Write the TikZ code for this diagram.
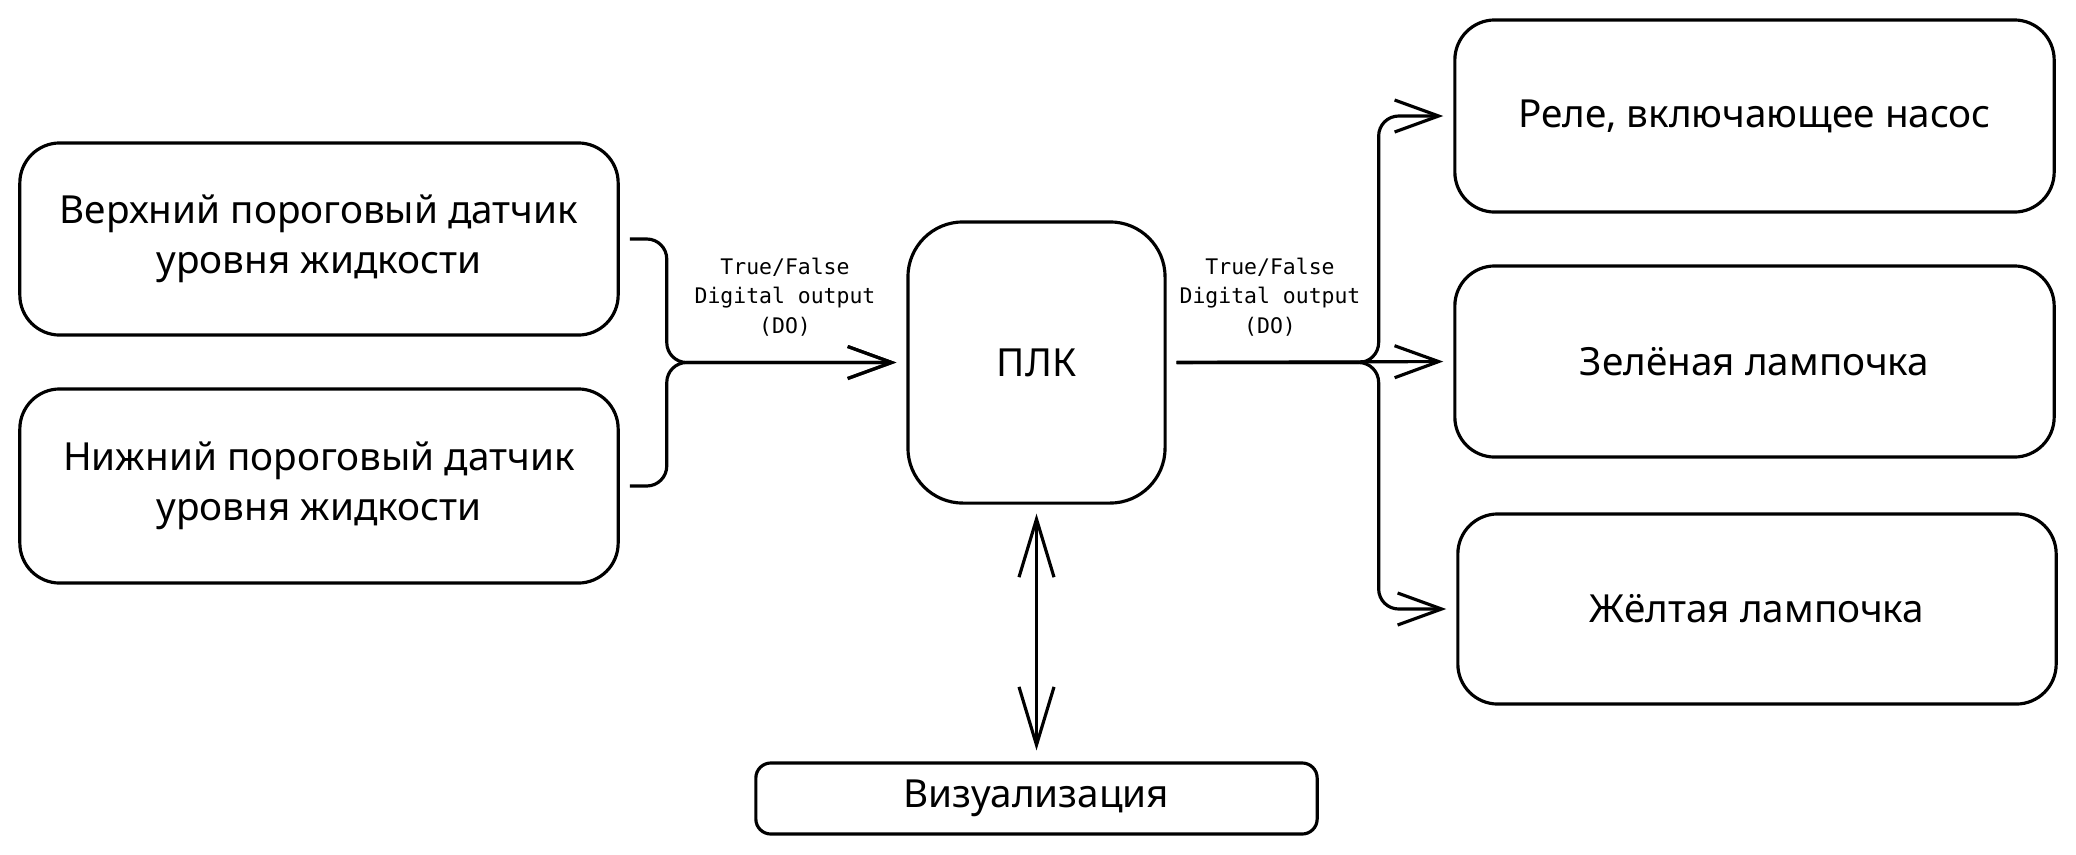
\documentclass[tikz,border=0pt]{standalone}
\usepackage{fontspec}
\setmainfont{Noto Sans}
\newfontfamily\monofont{DejaVu Sans Mono}
\usetikzlibrary{arrows.meta}

\begin{document}
\begin{tikzpicture}
            [x=0.01cm, y=-0.01cm, line width=0.9pt, line join=round,
             >={Straight Barb[length=4.4mm, width=3.2mm, line width=0.9pt]},
             box/.style={draw, rounded corners=4mm, inner sep=0pt, align=center, font=\fontsize{11}{14.2}\selectfont},
             plcbox/.style={box, rounded corners=5.5mm},
             visbox/.style={box, rounded corners=1.5mm},
             lbl/.style={align=center, inner sep=0pt, font=\monofont\fontsize{6.1}{8.4}\selectfont},
             wire/.style={->, rounded corners=2mm, shorten <=0.1cm, shorten >=0.1cm}]
            \useasboundingbox (0,0) rectangle (2076,854);
            % sensors
            \node[box, minimum width=5.98cm, minimum height=1.92cm] (up) at (319,239) {Верхний пороговый датчик\\уровня жидкости};
            \node[box, minimum width=5.98cm, minimum height=1.94cm] (low) at (319,486) {Нижний пороговый датчик\\уровня жидкости};
            % controller
            \node[plcbox, minimum width=2.57cm, minimum height=2.81cm] (plc) at (1036.5,362.5) {ПЛК};
            \node[visbox, minimum width=5.61cm, minimum height=0.71cm] (vis) at (1036.5,798.5) {Визуализация};
            % outputs
            \node[box, minimum width=5.99cm, minimum height=1.92cm] (relay) at (1754.5,116) {Реле, включающее насос};
            \node[box, minimum width=5.99cm, minimum height=1.91cm] (green) at (1754.5,361.5) {Зелёная лампочка};
            \node[box, minimum width=5.98cm, minimum height=1.90cm] (yellow) at (1757,609) {Жёлтая лампочка};
            % inputs to plc
            \draw[wire] (up.east) -- ++(47,0) |- (plc.west);
            \draw[wire] (low.east) -- ++(47,0) |- (plc.west);
            \node[lbl] (inlbl) at (785,297) {True/False\\Digital output\\(DO)};
            % plc to outputs
            \draw[wire] (plc.east) -- ++(212,0) |- (relay.west);
            \draw[wire] (plc.east) -- (green.west);
            \draw[wire] (plc.east) -- ++(212,0) |- (yellow.west);
            \node[lbl] (outlbl) at (1270,297) {True/False\\Digital output\\(DO)};
            % plc and visualisation
            \draw[<->, >={Straight Barb[length=5.8mm, width=3.5mm, line width=0.9pt]}, shorten <=0.09cm, shorten >=0.11cm] (plc.south) -- (vis.north);
\end{tikzpicture}
\end{document}
